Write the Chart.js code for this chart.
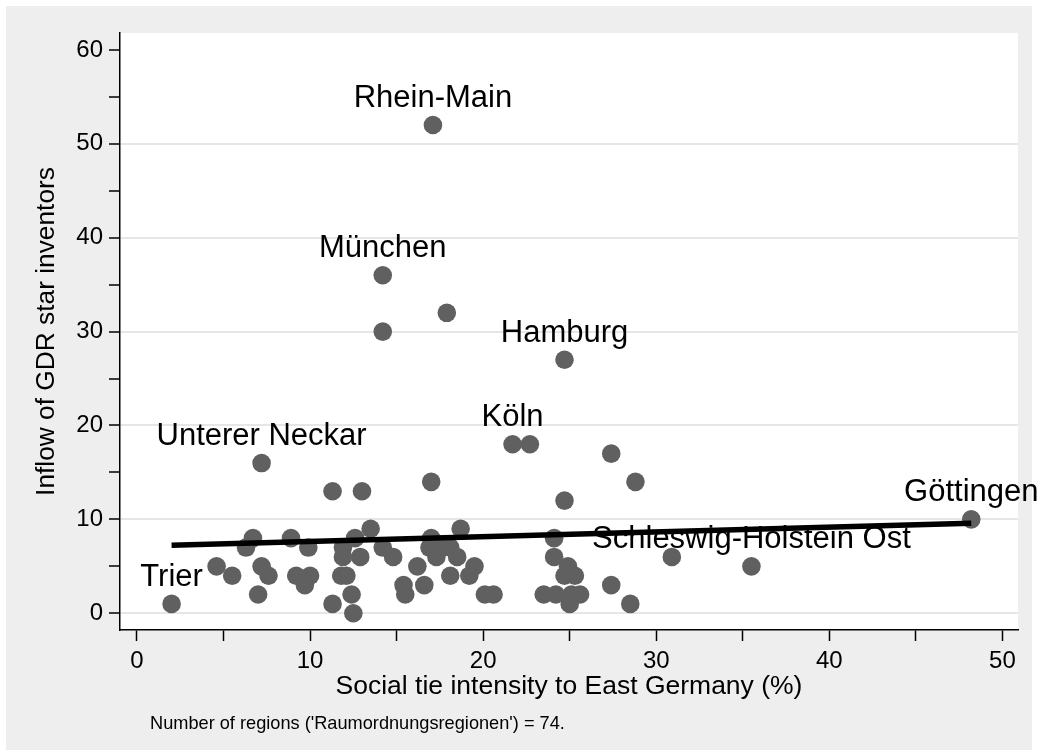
<!DOCTYPE html>
<html>
<head>
<meta charset="utf-8">
<script src="https://cdn.jsdelivr.net/npm/chart.js@4"></script>
<style>
body { margin: 0; background: #fff; }
</style>
</head>
<body>
<canvas id="chart" width="1038" height="755"></canvas>
<script>
// values
const socialTie = [17.1, 14.2, 14.2, 17.9, 24.7, 21.7, 22.7, 7.2, 27.4, 17.0, 28.8, 11.3, 13.0, 24.7, 48.2, 13.5, 18.7,
    2.0, 4.6, 5.5, 6.7, 6.3, 7.2, 7.6, 7.0, 8.9, 9.9, 9.2, 10.0, 9.7, 12.6, 11.9, 11.9, 12.9, 11.8, 12.1, 12.4, 11.3, 12.5,
    14.2, 14.8, 16.2, 15.4, 15.5, 16.6, 17.0, 16.9, 17.3, 18.1, 18.5, 18.1, 19.5, 19.2, 20.1, 20.6,
    24.1, 24.1, 24.9, 24.7, 25.3, 23.5, 24.2, 25.1, 25.6, 25.0, 27.4, 28.5, 30.9, 35.5, 17.6];
const inflow = [52, 36, 30, 32, 27, 18, 18, 16, 17, 14, 14, 13, 13, 12, 10, 9, 9,
    1, 5, 4, 8, 7, 5, 4, 2, 8, 7, 4, 4, 3, 8, 7, 6, 6, 4, 4, 2, 1, 0,
    7, 6, 5, 3, 2, 3, 8, 7, 6, 7, 6, 4, 5, 4, 2, 2,
    8, 6, 5, 4, 4, 2, 2, 2, 2, 1, 3, 1, 6, 5, 7];
const regionNames = ['Rhein-Main', 'München', '', '', 'Hamburg', 'Köln', '', 'Unterer Neckar', '', '', '', '', '', '', 'Göttingen', '', '',
    'Trier', '', '', '', '', '', '', '', '', '', '', '', '', '', '', '', '', '', '', '', '', '',
    '', '', '', '', '', '', '', '', '', '', '', '', '', '', '', '',
    '', '', '', '', '', '', '', '', '', '', '', '', '', 'Schleswig-Holstein Ost', ''];

// linear fit line, end points
const fitX = [2.0, 48.2];
const fitY = [7.25, 9.6];

const xTicks = [0, 5, 10, 15, 20, 25, 30, 35, 40, 45, 50];
const yTicks = [0, 5, 10, 15, 20, 25, 30, 35, 40, 45, 50, 55, 60];
const yGrid = [0, 10, 20, 30, 40, 50];

const xTitle = 'Social tie intensity to East Germany (%)';
const yTitle = 'Inflow of GDR star inventors';
const note = "Number of regions ('Raumordnungsregionen') = 74.";

const FONT = "'Liberation Sans', Arial, Helvetica, sans-serif";

const points = socialTie.map((x, i) => ({x: x, y: inflow[i]}));
const fitLine = fitX.map((x, i) => ({x: x, y: fitY[i]}));

const backdrop = {
    id: 'backdrop',
    beforeDraw(chart) {
        const ctx = chart.ctx;
        const a = chart.chartArea;
        ctx.save();
        ctx.fillStyle = '#ffffff';
        ctx.fillRect(0, 0, chart.width, chart.height);
        ctx.fillStyle = '#eeeeee';
        ctx.fillRect(6, 6, 1026, 744);
        ctx.fillStyle = '#ffffff';
        ctx.fillRect(a.left, a.top, a.right - a.left, a.bottom - a.top);
        ctx.restore();
    },
    afterDraw(chart) {
        const ctx = chart.ctx;
        ctx.save();
        ctx.fillStyle = '#000';
        ctx.font = '18.2px ' + FONT;
        ctx.textAlign = 'left';
        ctx.textBaseline = 'alphabetic';
        ctx.fillText(note, 150, 729);
        ctx.restore();
    }
};

const pointLabels = {
    id: 'pointLabels',
    afterDatasetDraw(chart, args) {
        if (args.index !== 1) return;
        const ctx = chart.ctx;
        ctx.save();
        ctx.fillStyle = '#000';
        ctx.font = '31px ' + FONT;
        ctx.textAlign = 'center';
        ctx.textBaseline = 'alphabetic';
        args.meta.data.forEach((pt, i) => {
            if (regionNames[i]) ctx.fillText(regionNames[i], pt.x, pt.y - 18);
        });
        ctx.restore();
    }
};

new Chart(document.getElementById('chart'), {
    type: 'scatter',
    data: {
        datasets: [{
            type: 'line',
            data: fitLine,
            borderColor: '#000',
            borderWidth: 5.5,
            pointRadius: 0,
            fill: false,
            order: 0
        }, {
            data: points,
            backgroundColor: '#606060',
            borderWidth: 0,
            pointRadius: 9.3,
            pointHoverRadius: 9.3,
            order: 1
        }]
    },
    options: {
        responsive: false,
        animation: false,
        devicePixelRatio: 1,
        layout: {padding: {left: 0, top: 33, right: 20, bottom: 0}},
        plugins: {legend: {display: false}, tooltip: {enabled: false}},
        scales: {
            x: {
                type: 'linear',
                min: -0.98,
                max: 50.9,
                afterBuildTicks: scale => { scale.ticks = xTicks.map(v => ({value: v})); },
                afterFit: scale => { scale.height = 125; },
                border: {display: true, color: '#000', width: 1.5},
                grid: {drawOnChartArea: false, drawTicks: true, tickLength: 11, tickColor: '#000', tickWidth: 1.5},
                ticks: {
                    color: '#000',
                    padding: 6,
                    maxRotation: 0,
                    autoSkip: false,
                    font: {family: FONT, size: 24},
                    callback: v => (v % 10 === 0 ? v : '')
                },
                title: {display: true, text: xTitle, color: '#000', font: {family: FONT, size: 26.5}, padding: {top: 0, bottom: 52}}
            },
            y: {
                type: 'linear',
                min: -1.78,
                max: 61.8,
                afterBuildTicks: scale => { scale.ticks = yTicks.map(v => ({value: v})); },
                afterFit: scale => { scale.width = 120; },
                border: {display: true, color: '#000', width: 1.5},
                grid: {
                    drawTicks: true,
                    tickLength: 11,
                    tickColor: '#000',
                    tickWidth: 1.5,
                    lineWidth: 2,
                    color: c => (c.tick && yGrid.includes(c.tick.value) ? '#e6e6e6' : 'rgba(0,0,0,0)')
                },
                ticks: {
                    color: '#000',
                    padding: 6,
                    autoSkip: false,
                    font: {family: FONT, size: 24},
                    callback: v => (v % 10 === 0 ? v : '')
                },
                title: {display: true, text: yTitle, color: '#000', font: {family: FONT, size: 26.3}, padding: {top: 31, bottom: 0}}
            }
        }
    },
    plugins: [backdrop, pointLabels]
});
</script>
</body>
</html>
